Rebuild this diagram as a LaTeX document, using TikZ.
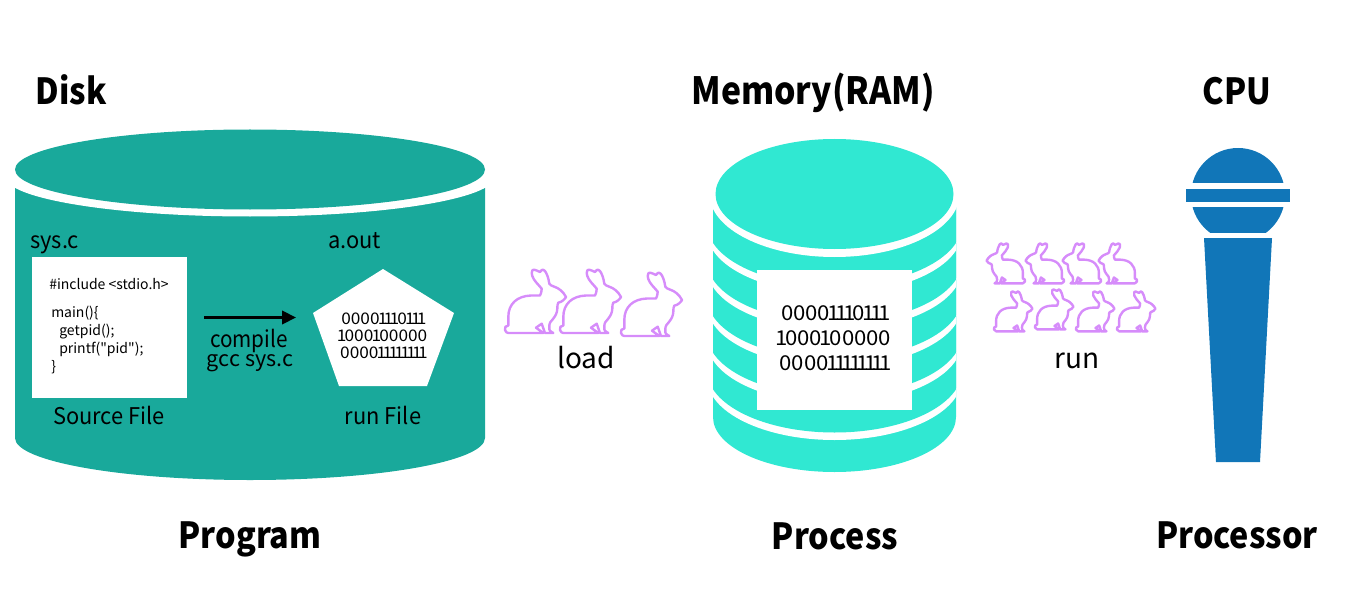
\documentclass[tikz,border=0pt]{standalone}
\usepackage{fontspec}
\setmainfont[Numbers=Proportional]{Noto Sans CJK KR}
\newfontfamily\codefont{Noto Sans CJK KR}
\usetikzlibrary{arrows.meta}
\definecolor{disk}{HTML}{19A99B}
\definecolor{mem}{HTML}{30E8D2}
\definecolor{cpu}{HTML}{1176B8}
\definecolor{bunny}{HTML}{D68CFA}
\newcommand{\fpx}[1]{\fontsize{\fpeval{#1*0.75}pt}{\fpeval{#1*0.9}pt}\selectfont}
\newcommand{\sq}[1]{\addfontfeature{FakeStretch=#1}}
\newcommand{\I}{\kern-.115em 1\kern-.115em }
\tikzset{
  txt/.style={inner sep=0pt,anchor=base},
  title/.style={txt,font=\fpx{36}\bfseries\sq{0.9},text=black},
  big/.style={txt,font=\fpx{28}},
  lab/.style={txt,font=\fpx{23}\sq{0.95}},
  bits/.style={txt,font=\fpx{16}\sq{1.08}},
  bitsb/.style={txt,font=\fpx{20.5}\sq{1.08}},
  code/.style={font=\codefont\fpx{14},inner sep=0pt,anchor=base west},
  whitebox/.style={fill=white,inner sep=0pt,minimum width=#1},
  bunnyline/.style={draw=bunny,line width=1.8pt,line join=round,fill=none},
  pics/rabbit/.style={code={
    \draw[bunnyline]
      (3.3,56.5) .. controls (0.5,56) and (-0.5,59) .. (0,61)
      .. controls (0.5,63) and (2,64) .. (3.3,64)
      -- (38.3,64) -- (31,58.7) -- (36.7,54.7) -- (40,64) -- (48.3,64)
      .. controls (45,62) and (44,62) .. (44.3,58)
      .. controls (44,54) and (46,52) .. (48,50)
      .. controls (51,46) and (52,44) .. (52.3,39.7)
      .. controls (52.5,36) and (52.5,35) .. (53.3,33.7)
      .. controls (57,33) and (60,30) .. (61,28)
      .. controls (58,22) and (53,19) .. (50,18)
      .. controls (47,17) and (45,16) .. (44.3,14.7)
      .. controls (43.5,9) and (42,5) .. (40,2)
      .. controls (39,0) and (37,0) .. (35,3)
      .. controls (31,1) and (28,0) .. (27.3,1.5)
      .. controls (26.5,3) and (26.5,5) .. (27.3,7)
      .. controls (29,12) and (33,15) .. (36.7,19.7)
      .. controls (36.7,22) and (36,25) .. (35,26.5)
      -- (26,26.5)
      .. controls (12,27) and (3.3,35) .. (3.3,48) -- cycle;
  }},
}
\begin{document}
\begin{tikzpicture}[x=0.75pt,y=-0.75pt]
\useasboundingbox (0,0) rectangle (1352,606);
% Disk
\fill[disk] (15,187.5) -- (485,187.5) -- (485,438) arc[x radius=235,y radius=42,start angle=0,end angle=180] -- cycle;
\fill[white] (250,176.5) ellipse[x radius=245,y radius=40];
\fill[disk] (250,169.5) ellipse[x radius=235,y radius=40];
% Source box
\node[whitebox=116.25pt,minimum height=105.75pt] (src) at (109.5,327.5) {};
\node[code] (c1) at (49,289) {\#include <stdio.h>};
\node[code] (c2) at (51,317) {main()\{};
\node[code] (c3) at (59,335) {getpid();};
\node[code] (c4) at (59,353) {printf("pid");};
\node[code] (c5) at (51,371) {\}};
% Pentagon
\fill[white] (383,269) -- (454,313) -- (427,386) -- (339,386) -- (313,313) -- cycle;
\node[bits] (pb1) at (383,324.5) {0000\I\I\I0\I\I\I};
\node[bits] (pb2) at (383,341.5) {\I000\I00000};
\node[bits] (pb3) at (383,358.5) {0000\I\I\I\I\I\I\I\I};
% Arrow
\coordinate (as) at (204,317.5);
\coordinate (ae) at (296,317.5);
\draw[line width=2.25pt,-{Triangle[length=10.5pt,width=10pt]}] (as) -- (ae);
% Disk labels
\node[lab,anchor=base west] (sys) at (30,248) {sys.c};
\node[lab] (aout) at (354.5,248) {a.out};
\node[lab,font=\fpx{23}\sq{0.9}] (comp) at (249,347) {compile};
\node[lab,font=\fpx{21.5}] (gcc) at (250,366) {gcc sys.c};
\node[lab] (srcl) at (109,424) {Source File};
\node[lab] (runf) at (383,424) {run File};
% Memory
\begin{scope}
\clip (713,205) -- (956,205) -- (956,417) arc[x radius=121.5,y radius=55,start angle=0,end angle=180] -- cycle;
\fill[mem] (700,200) rectangle (970,480);
\foreach \c in {378,341.4,304.8,268.2,231.6}{
  \fill[white] (834.5,\c) ellipse[x radius=127.5,y radius=62];
  \fill[mem] (834.5,\c-7.5) ellipse[x radius=127.5,y radius=62];
}
\end{scope}
\fill[white] (834.5,194) ellipse[x radius=125,y radius=63];
\fill[mem] (834.5,194) ellipse[x radius=119,y radius=55];
\node[whitebox=116.25pt,minimum height=105pt] (rambox) at (834.5,340) {};
\node[bitsb] (rb1) at (834.5,320) {0000\I\I\I0\I\I\I};
\node[bitsb] (rb2) at (834.5,345) {\I000\I00000};
\node[bitsb] (rb3) at (834.5,370) {0000\I\I\I\I\I\I\I\I};
% CPU
\begin{scope}
\clip (1180,140) rectangle (1300,232);
\fill[cpu] (1238,195) circle[radius=47];
\end{scope}
\fill[white] (1180,183) rectangle (1296,207);
\fill[cpu] (1186,189) rectangle (1290,202);
\fill[cpu] (1204,238) -- (1272,238) -- (1260,462) -- (1216,462) -- cycle;
% Rabbits, load
\pic at (505,269) {rabbit};
\pic at (560,269) {rabbit};
\pic at (621,272) {rabbit};
% Rabbits, run
\foreach \x/\y in {1025/243,1064/243,1101/243,1137/243}{
  \pic[xscale=-0.63,yscale=0.63] at (\x,\y) {rabbit};
}
\foreach \x/\y in {994/291,1035/289,1076/291,1117/291}{
  \pic[scale=0.63] at (\x,\y) {rabbit};
}
\node[big] (load) at (586,368) {load};
\node[big] (run) at (1077,368) {run};
% Titles
\node[title] (t1) at (71,105) {Disk};
\node[title,font=\fpx{37.5}\bfseries\sq{0.9}] (t2) at (813,105) {Memory(RAM)};
\node[title] (t3) at (1237,105) {CPU};
\node[title] (t4) at (250,548) {Program};
\node[title] (t5) at (835,549) {Process};
\node[title] (t6) at (1237,548) {Processor};
\end{tikzpicture}
\end{document}
